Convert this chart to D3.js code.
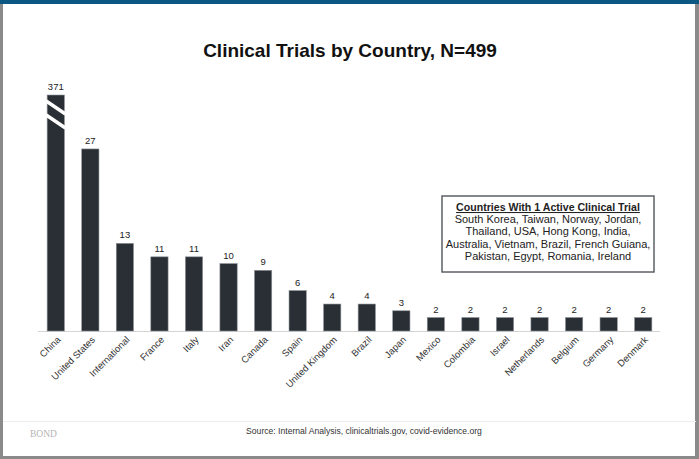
<!DOCTYPE html>
<html>
<head>
<meta charset="utf-8">
<script src="https://cdn.jsdelivr.net/npm/d3@7"></script>
<style>
  body { margin: 0; background: #fff; }
  svg { display: block; font-family: "Liberation Sans", Arial, sans-serif; }
</style>
</head>
<body>
<div id="chart"></div>
<script>
// data
var countries = ["China", "United States", "International", "France", "Italy", "Iran", "Canada", "Spain",
  "United Kingdom", "Brazil", "Japan", "Mexico", "Colombia", "Israel", "Netherlands", "Belgium", "Germany", "Denmark"];
var trials = [371, 27, 13, 11, 11, 10, 9, 6, 4, 4, 3, 2, 2, 2, 2, 2, 2, 2];
var oneTrialCountries = [
  "South Korea, Taiwan, Norway, Jordan,",
  "Thailand, USA, Hong Kong, India,",
  "Australia, Vietnam, Brazil, French Guiana,",
  "Pakistan, Egypt, Romania, Ireland"
];
var chartTitle = "Clinical Trials by Country, N=499";
var sourceNote = "Source: Internal Analysis, clinicaltrials.gov, covid-evidence.org";

/*
 * Bounds of component.
 */
var width = 699,
  height = 459,
  cap = 35; // China is drawn broken at this height

var svg = d3.select("#chart").append("svg")
  .attr("width", width)
  .attr("height", height);

// frame
svg.append("rect").attr("x", 0).attr("y", 0).attr("width", width).attr("height", height).attr("fill", "#8a8a8a");
svg.append("rect").attr("x", 3).attr("y", 0).attr("width", width - 7).attr("height", height - 3).attr("fill", "#fff");
svg.append("rect").attr("x", 0).attr("y", 0).attr("width", width).attr("height", 4).attr("fill", "#0b5882");

/*
 * Title.
 */
svg.append("text")
  .attr("x", 350).attr("y", 57)
  .attr("text-anchor", "middle")
  .style("font-size", "19px").style("font-weight", "bold").style("fill", "#111")
  .text(chartTitle);

/*
 * Scales.
 */
var x = d3.scaleBand()
  .domain(countries)
  .range([38.5, 660.5])
  .paddingInner(0.5)
  .paddingOuter(0.25);

var y = d3.scaleLinear()
  .domain([0, cap])
  .range([331, 95]);

// baseline
svg.append("line")
  .attr("x1", 38).attr("x2", 660)
  .attr("y1", 331.5).attr("y2", 331.5)
  .attr("stroke", "#d4d4d4").attr("stroke-width", 1);

/*
 * Bars.
 */
var g = svg.selectAll(".bar")
  .data(countries.map(function(c, i) { return { c: c, v: trials[i] }; }))
  .enter().append("g")
  .attr("class", "bar");

g.append("rect")
  .attr("x", function(d) { return x(d.c); })
  .attr("width", x.bandwidth())
  .attr("y", function(d) { return y(Math.min(d.v, cap)); })
  .attr("height", function(d) { return y(0) - y(Math.min(d.v, cap)); })
  .attr("fill", "#2a2f35")
  .attr("stroke", "#8f9499").attr("stroke-width", 0.6);

g.append("text")
  .attr("x", function(d) { return x(d.c) + x.bandwidth() / 2; })
  .attr("y", function(d) { return y(Math.min(d.v, cap)) - 5; })
  .attr("text-anchor", "middle")
  .style("font-size", "9.5px").style("fill", "#222")
  .text(function(d) { return d.v; });

// break marks on the capped bar
g.filter(function(d) { return d.v > cap; }).each(function(d) {
  var x0 = x(d.c) - 1, x1 = x(d.c) + x.bandwidth() + 1;
  [0, 14].forEach(function(off) {
    d3.select(this).append("line")
      .attr("x1", x0).attr("y1", 101 + off)
      .attr("x2", x1).attr("y2", 114 + off)
      .attr("stroke", "#fff").attr("stroke-width", 3.5);
  }, this);
});

/*
 * Category labels.
 */
svg.selectAll(".cat")
  .data(countries)
  .enter().append("text")
  .attr("class", "cat")
  .attr("transform", function(d) {
    return "translate(" + (x(d) + x.bandwidth() / 2 + 3) + ",338) rotate(-45)";
  })
  .attr("text-anchor", "end")
  .attr("dy", "0.35em")
  .style("font-size", "9.5px").style("fill", "#333")
  .text(function(d) { return d; });

/*
 * Legend box.
 */
var box = svg.append("g").attr("transform", "translate(442,196)");
box.append("rect")
  .attr("width", 212).attr("height", 76)
  .attr("fill", "#fff").attr("stroke", "#5c6066").attr("stroke-width", 1.5);
box.append("text")
  .attr("x", 106).attr("y", 15)
  .attr("text-anchor", "middle")
  .style("font-size", "10.6px").style("font-weight", "bold").style("fill", "#222")
  .style("text-decoration", "underline")
  .text("Countries With 1 Active Clinical Trial");
box.selectAll(".line")
  .data(oneTrialCountries)
  .enter().append("text")
  .attr("x", 106)
  .attr("y", function(d, i) { return 27 + i * 12.4; })
  .attr("text-anchor", "middle")
  .style("font-size", "11px").style("fill", "#222")
  .text(function(d) { return d; });

/*
 * Footer.
 */
svg.append("line")
  .attr("x1", 3).attr("x2", 696).attr("y1", 421.5).attr("y2", 421.5)
  .attr("stroke", "#ececec").attr("stroke-width", 1);
svg.append("text")
  .attr("x", 30).attr("y", 437)
  .style("font-family", "'Liberation Serif', 'DejaVu Serif', serif")
  .style("font-size", "9.5px").style("fill", "#b5b5b5")
  .text("BOND");
svg.append("text")
  .attr("x", 364).attr("y", 434)
  .attr("text-anchor", "middle")
  .style("font-size", "8.6px").style("fill", "#333")
  .text(sourceNote);
</script>
</body>
</html>
